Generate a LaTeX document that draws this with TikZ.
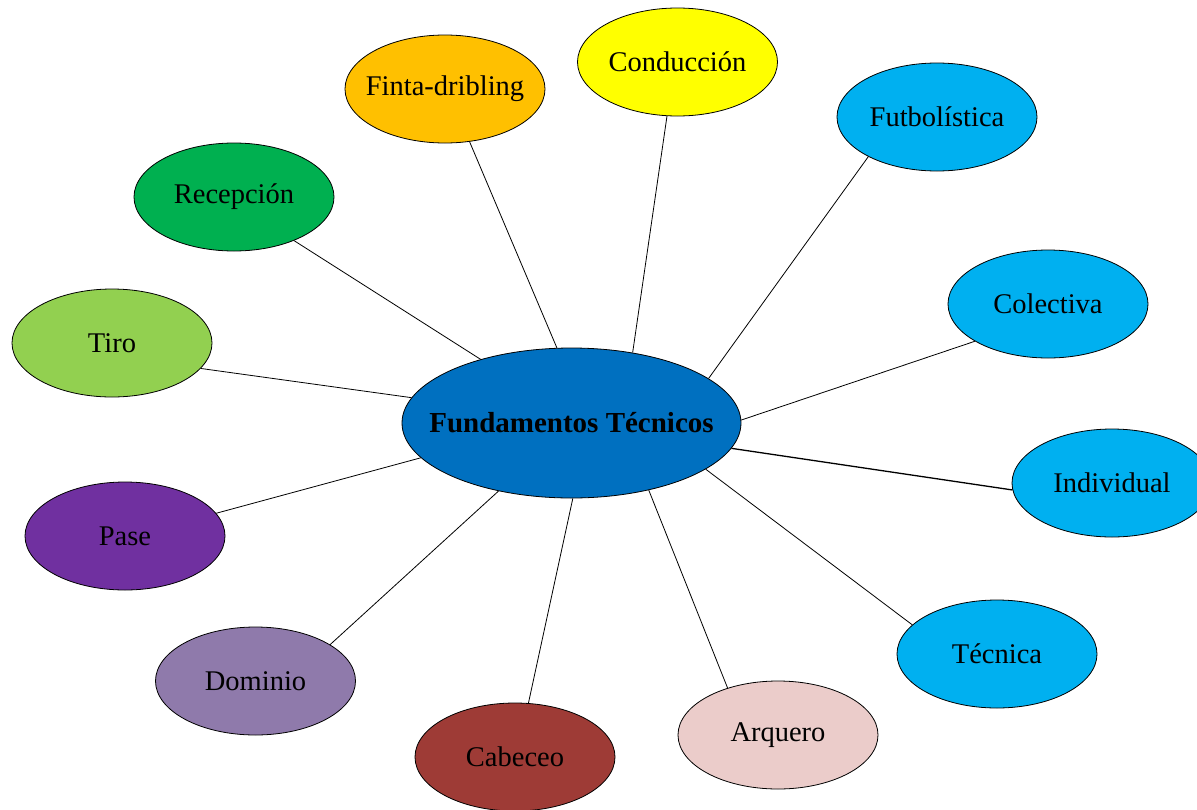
\documentclass[tikz,border=0pt]{standalone}
\usepackage{fontspec}
\setmainfont{Liberation Serif}
\usetikzlibrary{shapes.geometric}
\definecolor{cCenter}{HTML}{0070C0}
\definecolor{cYellow}{HTML}{FFFF00}
\definecolor{cOrange}{HTML}{FFC000}
\definecolor{cBlue}{HTML}{00B0F0}
\definecolor{cGreen}{HTML}{00B050}
\definecolor{cLime}{HTML}{92D050}
\definecolor{cPurple}{HTML}{7030A0}
\definecolor{cLav}{HTML}{8F7AAB}
\definecolor{cBrown}{HTML}{9E3B36}
\definecolor{cPink}{HTML}{EBCCCA}
\newcommand\zw[1]{\makebox[0pt]{#1}}
\tikzset{
  bub/.style={ellipse, draw=black, line width=0.8pt, inner sep=0pt,
    minimum width=200pt, minimum height=108pt,
    font=\fontsize{28.5}{34}\selectfont},
  hub/.style={bub, minimum width=339pt, minimum height=150pt,
    font=\fontsize{29}{34}\selectfont\bfseries},
  link/.style={draw=black, line width=0.8pt}
}
\begin{document}
\begin{tikzpicture}[x=1pt,y=-1pt]
\clip (0,0) rectangle (1197,809);
\useasboundingbox (0,0) rectangle (1197,809);
\node[hub, fill=cCenter] (fc) at (571.5,423) {\zw{Fundamentos Técnicos}};
\node[bub, fill=cYellow] (cond) at (677.5,62) {\zw{Conducción}};
\node[bub, fill=cOrange] (finta) at (445,89) {\zw{Finta-dribling}};
\node[bub, fill=cBlue] (futb) at (937,117) {\zw{Futbolística}};
\node[bub, fill=cGreen] (recep) at (234,197) {\zw{Recepción}};
\node[bub, fill=cBlue] (colec) at (1048,304) {\zw{Colectiva}};
\node[bub, fill=cLime] (tiro) at (112,343) {\zw{Tiro}};
\node[bub, fill=cBlue] (indiv) at (1112,483) {\zw{Individual}};
\node[bub, fill=cPurple] (pase) at (125,536) {\zw{Pase}};
\node[bub, fill=cBlue] (tecn) at (997,654) {\zw{Técnica}};
\node[bub, fill=cLav] (domin) at (255.5,681) {\zw{Dominio}};
\node[bub, fill=cBrown] (cabe) at (515,757) {\zw{Cabeceo}};
\node[bub, fill=cPink] (arq) at (778,735) {\zw{Arquero}};
\path[link] (fc.49.1) -- (cond.259.2);
\path[link] (fc.101.2) -- (finta.-65.2);
\path[link] (fc.18.6) -- (futb.210.5);
\path[link] (fc.145.2) -- (recep.-36.4);
\path[link] (fc.1.0) -- (colec.207.5);
\path[link] (fc.171.2) -- (tiro.-16.1);
\path[link, line width=1.3pt] (fc.-9.6) -- (indiv.184.0);
\path[link] (fc.193.4) -- (pase.14.9);
\path[link] (fc.-19.7) -- (tecn.161.2);
\path[link] (fc.223.6) -- (domin.26.4);
\path[link] (fc.271.1) -- (cabe.76.5);
\path[link] (fc.-41.6) -- (arq.137.8);
\end{tikzpicture}
\end{document}
